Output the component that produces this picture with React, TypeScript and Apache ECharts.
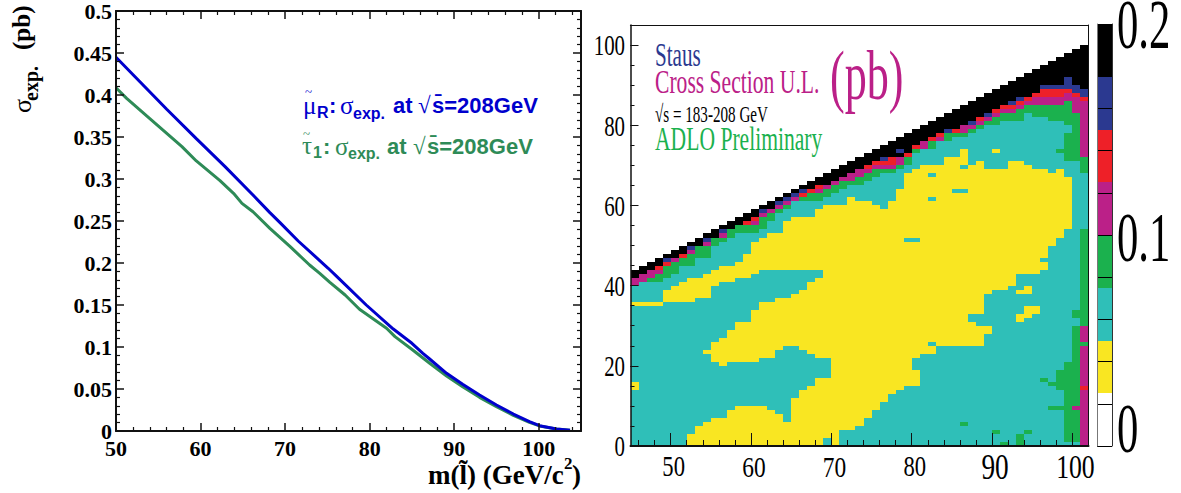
import React, { useEffect, useRef } from "react";
import * as echarts from "echarts";

const SERIF = "Liberation Serif";
const SANS = "Liberation Sans";

// ---- left panel: expected cross sections
const muX = [50, 52.25, 56, 59.5, 62.9, 66.2, 68.2, 69.4, 71.55, 75.1, 76.1, 79.6, 82.8, 85, 86.3, 87.1, 89.1, 91, 93, 95, 97, 98.9, 100.1, 102.1, 103.7];
const muY = [0.445, 0.4218, 0.383, 0.348, 0.3147, 0.281, 0.26, 0.248, 0.2262, 0.1937, 0.184, 0.15, 0.1214, 0.1044, 0.0925, 0.0857, 0.0687, 0.0556, 0.0429, 0.031, 0.0202, 0.0111, 0.0063, 0.0024, 0.0008];
const tauX = [50, 51.26, 54, 57.8, 59.5, 62.3, 63.9, 64.9, 66.2, 68.2, 70.6, 72.9, 74.1, 75.3, 77.1, 78.8, 82, 83, 85.1, 87.1, 89.1, 91, 93, 95, 97, 98.9, 100.1, 102.1, 103.7];
const tauY = [0.4087, 0.396, 0.372, 0.3385, 0.3215, 0.298, 0.283, 0.271, 0.261, 0.2413, 0.2194, 0.1976, 0.1877, 0.177, 0.1619, 0.1449, 0.1223, 0.1123, 0.0964, 0.0806, 0.0655, 0.0528, 0.0401, 0.029, 0.0187, 0.0103, 0.006, 0.0024, 0.0008];

// ---- right panel: per mass column (45..101), runs bottom-up: level letter + last row (inclusive)
const heatColumns = [
  "T13 Y15 T34 Y35 T39 M41 K43",
  "T34 Y35 T40 M42 K44",
  "T34 Y35 T40 G41 M43 K45",
  "T34 Y35 T40 G42 M43 R44 K46",
  "T35 Y38 T41 G44 R45 B46 K47",
  "T35 Y39 T42 G45 M46 K48",
  "T35 Y40 T44 G46 R47 K49",
  "Y2 T35 Y41 T44 G47 M48 B49 K50",
  "Y4 T36 Y41 T46 G49 K51",
  "Y5 T22 Y23 T36 Y42 T46 G49 M50 B51 K52",
  "Y6 T20 Y25 T39 Y43 T49 G51 K53",
  "Y6 T19 Y26 T40 Y44 T50 G51 M52 B53 K54",
  "Y8 T20 Y28 T40 Y44 T51 G53 K55",
  "Y9 T20 Y30 T41 Y45 T52 G54 K56",
  "Y9 T20 Y30 T41 Y47 T52 G54 R55 K57",
  "Y9 T20 Y33 T42 Y50 T52 G54 M55 R56 K58",
  "Y9 T21 Y35 T43 Y51 T53 G56 M57 B58 K59",
  "Y8 T21 Y35 T43 Y52 T55 G57 M58 K60",
  "Y7 T23 Y36 T43 Y52 T57 G58 M59 B60 K61",
  "Y5 T24 Y36 T43 Y55 T58 G59 M60 B61 K62",
  "Y11 T24 Y37 T43 Y56 T60 M61 B62 K63",
  "Y13 T23 Y38 T43 Y56 T60 G61 R62 B63 K64",
  "Y14 T22 Y40 T43 Y56 T60 G62 R63 K65",
  "Y16 T21 Y41 T43 Y58 T60 G62 M63 R64 K66",
  "T1 Y16 T21 Y59 T61 G63 M64 K67",
  "Y59 T62 G64 M65 K68",
  "T3 Y59 T63 G65 M66 K69",
  "T3 Y61 T64 G65 M67 K70",
  "T4 Y60 T64 G66 M68 K71",
  "T6 Y60 T65 G67 M68 R69 K72",
  "T8 Y59 T66 G68 M69 R70 K73",
  "T10 Y58 T67 G68 M69 R70 B71 K74",
  "T12 Y60 T67 G68 M69 R71 K75",
  "T13 Y63 T68 G69 M71 K72 B73 K76",
  "T14 Y50 T51 Y67 T69 G71 R72 K77",
  "T14 Y18 T21 Y50 T51 Y68 T72 G73 R74 K78",
  "T22 Y69 T73 M75 K79",
  "T22 Y24 T25 Y60 T61 Y66 T67 Y69 T73 G75 R76 K80",
  "T24 Y69 T75 M76 R77 K81",
  "T24 Y71 T75 G77 B78 K82",
  "T24 Y62 T63 Y71 T76 G77 R78 K83",
  "T4 G5 T24 Y62 T63 Y68 T69 Y73 T76 G77 M79 K84",
  "T24 Y30 T32 Y69 T77 G78 M79 B80 K85",
  "T24 Y29 T32 Y70 T78 G79 M80 R81 K86",
  "T27 Y29 T37 Y68 T79 G80 M81 B82 K87",
  "T2 G3 T38 Y68 T72 Y73 T79 G81 M82 R83 K88",
  "G0 T38 Y68 T80 G82 M83 R84 K89",
  "T39 Y70 T80 G82 M83 R84 B85 K90",
  "G2 T30 Y32 T37 Y38 T42 Y70 T80 G83 M84 R85 B86 K91",
  "T2 G3 T31 Y34 T37 Y39 T42 Y69 T82 G84 M85 R86 K92",
  "T32 Y34 T42 Y68 T81 G84 M86 R87 K93",
  "T15 G16 T43 Y45 T46 Y68 T81 G84 M86 R88 B89 K94",
  "T8 G9 T14 G15 T49 Y67 T80 G84 M86 R88 B89 K95",
  "T8 G9 T13 G18 T51 Y68 T72 G73 T80 G84 M86 R88 B89 K96",
  "T0 G20 T53 Y66 T70 G77 T79 G85 M87 R88 B91 K97",
  "T0 G8 M9 G29 T31 G33 T70 G82 M86 R87 B89 K98",
  "M13 R14 M24 G25 M29 G53 T67 G71 M85 R86 B88 K99",
];
const firstMass = 45;

const levelColors: Record<string, string> = {
  W: "#FFFFFF", Y: "#F9E622", T: "#2FBFB8", G: "#1BB14E", M: "#BB2088", R: "#EE2028", B: "#2B3990", K: "#000000",
};
const bandLevels = ["W", "Y", "T", "G", "M", "R", "B", "K"];
const bandEdges = [0, 0.025, 0.05, 0.075, 0.1, 0.125, 0.15, 0.175, 0.2];

const leftXTicks = [50, 60, 70, 80, 90, 100];
const rightXMajor = [50, 60, 70, 80, 90, 100];
const rightXMinor = [46, 48, 52, 54, 56, 58, 62, 64, 66, 68, 72, 74, 76, 78, 82, 84, 86, 88, 92, 94, 96, 98, 102];
const rightYLabels = [0, 20, 40, 60, 80, 100];
const xLabelSizes = [29, 30, 30, 29, 35, 33];
const cbLabels = ["0", "0.1", "0.2"];
const cbLabelValues = [0, 0.1, 0.2];
const cbLabelOffsets = [-18, 2, 0];

function heatData() {
  const out: any[] = [];
  heatColumns.forEach((col, i) => {
    let start = 0;
    col.split(" ").forEach((run) => {
      const last = parseInt(run.slice(1), 10);
      out.push([firstMass + i, firstMass + i + 1, start, last + 1, run[0]]);
      start = last + 1;
    });
  });
  return out;
}

function t(text: string, x: number, y: number, font: number, fill: string, opt: any = {}) {
  return {
    type: "text",
    x,
    y,
    scaleX: opt.sx ?? 1,
    rotation: opt.rot ?? 0,
    z: 100,
    style: {
      text,
      fill,
      fontFamily: opt.family ?? SERIF,
      fontSize: font,
      fontWeight: opt.weight ?? "normal",
      textAlign: opt.align ?? "left",
      textVerticalAlign: "middle",
    },
  };
}

const BLACK = "#111";
const lineS = (w: number) => ({ show: true, onZero: false, lineStyle: { color: BLACK, width: w } });

export default function App() {
  const ref = useRef<HTMLDivElement>(null);
  useEffect(() => {
    const chart = echarts.init(ref.current!, undefined, { renderer: "svg" });
    const boldLabel = { color: "#000", fontFamily: SERIF, fontWeight: "bold" as const, fontSize: 22 };
    const leftTick = { show: true, inside: true, length: 8, lineStyle: { color: BLACK, width: 1.5 } };
    const leftMinor = { show: true, splitNumber: 5, length: 4, lineStyle: { color: BLACK, width: 1.2 } };
    const leftXBase = { type: "value", gridIndex: 0, min: 50, max: 105, interval: 10, splitLine: { show: false }, axisLine: lineS(2), axisTick: leftTick, minorTick: leftMinor, z: 10 };
    const leftYBase = { type: "value", gridIndex: 0, min: 0, max: 0.5, interval: 0.05, splitLine: { show: false }, axisLine: lineS(2), axisTick: leftTick, minorTick: leftMinor, z: 10 };
    const none = { show: false };
    const rendRect = (params: any, api: any) => {
      const p0 = api.coord([api.value(0), api.value(2)]);
      const p1 = api.coord([api.value(1), api.value(3)]);
      const x = Math.round(p0[0]);
      const y = Math.round(p1[1]);
      return {
        type: "rect",
        shape: { x, y, width: Math.round(p1[0]) - x, height: Math.round(p0[1]) - y },
        style: { fill: levelColors[heatCells[params.dataIndex][4]] },
      };
    };
    const heatCells = heatData();
    const cbCells = bandLevels.map((lv, i) => [0, 1, bandEdges[i], bandEdges[i + 1], lv]);
    const rendBand = (params: any, api: any) => {
      const p0 = api.coord([api.value(0), api.value(2)]);
      const p1 = api.coord([api.value(1), api.value(3)]);
      const x = Math.round(p0[0]);
      const y = Math.round(p1[1]);
      return {
        type: "rect",
        shape: { x, y, width: Math.round(p1[0]) - x, height: Math.round(p0[1]) - y },
        style: { fill: levelColors[cbCells[params.dataIndex][4] as string] },
      };
    };
    chart.setOption({
      animation: false,
      backgroundColor: "#fff",
      grid: [
        { left: 116, top: 11, width: 465, height: 420 },
        { left: 630.5, top: 25, width: 458, height: 421 },
        { left: 1097, top: 24, width: 15, height: 422 },
      ],
      xAxis: [
        { ...leftXBase, position: "bottom", axisLabel: { ...boldLabel, margin: 6, customValues: leftXTicks } },
        { ...leftXBase, position: "top", axisLabel: none },
        { type: "value", gridIndex: 1, position: "bottom", min: firstMass, max: 102, splitLine: none, axisLine: lineS(2),
          axisTick: { show: true, inside: true, length: 13, customValues: rightXMajor, lineStyle: { color: BLACK, width: 1 } }, axisLabel: none, z: 10 },
        { type: "value", gridIndex: 1, position: "bottom", min: firstMass, max: 102, splitLine: none, axisLine: none,
          axisTick: { show: true, inside: true, length: 6, customValues: rightXMinor, lineStyle: { color: BLACK, width: 1 } }, axisLabel: none, z: 10 },
        { type: "value", gridIndex: 1, position: "top", min: firstMass, max: 102, splitLine: none, axisLine: lineS(1.2), axisTick: none, axisLabel: none, z: 10 },
        { type: "value", gridIndex: 2, position: "bottom", min: 0, max: 1, splitLine: none, axisLine: none, axisTick: none, axisLabel: none },
      ],
      yAxis: [
        { ...leftYBase, position: "left", axisLabel: { ...boldLabel, margin: 4 } },
        { ...leftYBase, position: "right", axisLabel: none },
        { type: "value", gridIndex: 1, position: "left", min: 0, max: 105, interval: 20, splitLine: none, axisLine: lineS(1.5),
          axisTick: { show: true, inside: true, length: 8, lineStyle: { color: BLACK, width: 1 } }, axisLabel: none, z: 10 },
        { type: "value", gridIndex: 1, position: "left", min: 0, max: 105, interval: 5, splitLine: none, axisLine: none,
          axisTick: { show: true, inside: true, length: 4, lineStyle: { color: BLACK, width: 1 } }, axisLabel: none, z: 10 },
        { type: "value", gridIndex: 1, position: "right", min: 0, max: 105, splitLine: none, axisLine: lineS(1), axisTick: none, axisLabel: none, z: 10 },
        { type: "value", gridIndex: 2, position: "left", min: 0, max: 0.2, interval: 0.02, axisLine: { show: true, lineStyle: { color: "#777", width: 1 } }, axisTick: none, axisLabel: none,
          splitLine: { show: true, lineStyle: { color: "#000", width: 1 } }, z: 10 },
        { type: "value", gridIndex: 2, position: "right", min: 0, max: 0.2, interval: 0.02, axisLine: { show: true, lineStyle: { color: "#333", width: 1 } }, axisTick: none, axisLabel: none, splitLine: none, z: 10 },
      ],
      series: [
        { type: "line", name: "mu", xAxisIndex: 0, yAxisIndex: 0, data: muX.map((x, i) => [x, muY[i]]), showSymbol: false, lineStyle: { color: "#0000CD", width: 3 }, z: 4 },
        { type: "line", name: "tau", xAxisIndex: 0, yAxisIndex: 0, data: tauX.map((x, i) => [x, tauY[i]]), showSymbol: false, lineStyle: { color: "#2E8B57", width: 3 }, z: 3 },
        { type: "custom", name: "upper limit", xAxisIndex: 2, yAxisIndex: 2, data: heatCells, renderItem: rendRect, encode: { x: [0, 1], y: [2, 3] }, z: 2 },
        { type: "custom", name: "scale", xAxisIndex: 5, yAxisIndex: 5, data: cbCells, renderItem: rendBand, encode: { x: [0, 1], y: [2, 3] }, z: 2 },
      ],
    });

    const px = (v: number) => chart.convertToPixel({ xAxisIndex: 2 }, v) as number;
    const py = (v: number) => chart.convertToPixel({ yAxisIndex: 2 }, v) as number;
    const cy = (v: number) => chart.convertToPixel({ yAxisIndex: 5 }, v) as number;
    const BLUE = "#0000CD";
    const SEA = "#2E8B57";
    const sansB = { family: SANS, weight: "bold" };
    const graphic: any[] = [
      // left panel titles
      t("σ", 22, 113, 26, "#000", { rot: Math.PI / 2 }),
      t("exp.", 31, 101, 20, "#000", { rot: Math.PI / 2, weight: "bold" }),
      t("(pb)", 21, 50, 25, "#000", { rot: Math.PI / 2, weight: "bold" }),
      t("m(l\u0303) (GeV/c", 428, 475, 27, "#000", { weight: "bold" }),
      t("2", 564, 463, 17, "#000", { weight: "bold" }),
      t(")", 572, 475, 27, "#000", { weight: "bold" }),
      // legend rows
      t("μ", 303, 105, 25, BLUE),
      t("~", 305, 91, 13, BLUE),
      t("R", 317, 112, 16, BLUE, sansB),
      t(":", 329, 105, 22, BLUE, sansB),
      t("σ", 340, 105, 25, BLUE),
      t("exp.", 353, 113, 16, BLUE, sansB),
      t("at", 393, 105, 22, BLUE, sansB),
      t("√", 418, 105, 23, BLUE),
      t("s\u0304=208GeV", 432, 105, 22, BLUE, sansB),
      t("τ", 302, 145, 25, SEA),
      t("~", 303, 133, 13, SEA),
      t("1", 313, 152, 16, SEA, sansB),
      t(":", 323, 146, 22, SEA, sansB),
      t("σ", 335, 146, 25, SEA),
      t("exp.", 348, 153, 16, SEA, sansB),
      t("at", 387, 146, 22, SEA, sansB),
      t("√", 413, 146, 23, SEA),
      t("s\u0304=208GeV", 427, 146, 22, SEA, sansB),
      // right panel text
      t("Staus", 655, 55, 33, "#2B3990", { sx: 0.64 }),
      t("Cross Section U.L.", 655, 82, 33, "#BB2088", { sx: 0.655 }),
      t("(pb)", 830, 76, 70, "#BB2088", { sx: 0.63 }),
      t("√s = 183-208 GeV", 655, 114, 24, "#000", { sx: 0.63 }),
      t("ADLO Preliminary", 655, 139, 33, "#1BB14E", { sx: 0.655 }),
    ];
    rightXMajor.forEach((v, i) => {
      graphic.push(t(String(v), px(v) + 3, 467, xLabelSizes[i], "#000", { align: "center", sx: 0.78 }));
    });
    rightYLabels.forEach((v) => {
      graphic.push(t(String(v), 625, py(v), 29, "#000", { align: "right", sx: 0.72 }));
    });
    cbLabels.forEach((s, i) => {
      graphic.push(t(s, 1117, cy(cbLabelValues[i]) + cbLabelOffsets[i], 70, "#000", { sx: 0.61 }));
    });
    chart.setOption({ graphic });
    return () => chart.dispose();
  }, []);
  return <div ref={ref} style={{ position: "absolute", left: 0, top: 0, width: 1181, height: 493 }} />;
}
